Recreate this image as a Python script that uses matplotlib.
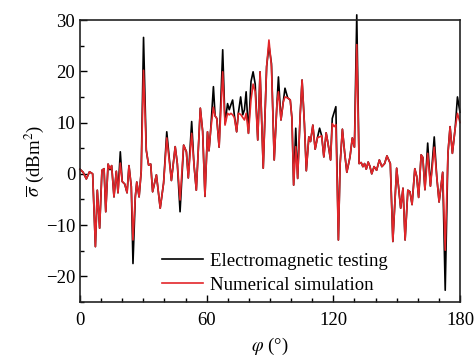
import matplotlib
matplotlib.use("Agg")
import matplotlib.pyplot as plt
from matplotlib.ticker import MultipleLocator

plt.rcParams['font.family'] = ['Liberation Serif', 'DejaVu Serif']
plt.rcParams['mathtext.fontset'] = 'stix'

phi = [0, 1.5, 3, 4.5, 6, 7.3, 8.2, 9.3, 10.4, 11.4, 12.2, 13.3, 14.2, 15.0, 16.1, 17.2, 18.0,
       19.1, 20.0, 21.2, 22.3, 23.2, 24.3, 25.1, 26.2, 26.9, 28.0, 29.0, 30.1, 31.4, 32.5, 33.5,
       34.4, 36.2, 38.0, 39.6, 41.1, 43.3, 45.1, 46.1, 47.4, 49.1, 50.4, 51.3, 52.9, 54.0, 55.1,
       57.0, 58.1, 59.2, 60.4, 61.1, 61.9, 63.2, 64.0, 64.8, 65.9, 67.6, 68.7, 69.9, 70.7, 71.5,
       72.3, 73.1, 74.2, 75.0, 76.1, 77.1, 77.9, 78.7, 79.8, 81.0, 82.0, 83.0, 84.2, 85.3, 86.8,
       88.4, 89.5, 90.7, 92.0, 93.3, 94.0, 95.2, 96.3, 97.1, 98.4, 99.6, 100.4, 101.2, 102.2,
       103.1, 104.3, 105.2, 106.3, 107.2, 108.4, 109.2, 110.3, 111.4, 112.5, 113.5, 114.5, 115.5,
       116.6, 117.5, 118.7, 119.5, 120.4, 121.2, 122.4, 123.2, 124.3, 125.4, 126.4, 127.9, 129.0,
       130.0, 131.1, 132.2, 133.2, 134.0, 134.8, 135.6, 136.5, 137.3, 138.2, 139.3, 140.5, 141.8,
       143.0, 144.3, 145.4, 147.0, 148.2, 150.0, 151.9, 153.0, 154.0, 155.3, 156.3, 157.3, 158.6,
       159.5, 160.4, 161.6, 162.4, 163.4, 164.7, 166.0, 167.8, 169.0, 170.1, 171.8, 173.0, 174.3,
       175.3, 176.4, 177.7, 178.8, 180.0]

simulation = [0.9, 0.3, -1.0, 0.4, 0.0, -14.2, -3.2, -10.6, 0.7, 1.0, -7.4, 1.9, 1.0, 1.6, -4.5, 0.5, -3.7,
              2.1, -1.5, -2.0, -3.7, 1.6, -2.5, -12.9, -4.5, -1.6, -4.5, 0.5, 20.2, 4.6, 1.7, 1.9,
              -3.5, -0.2, -6.7, -1.8, 7.0, -1.3, 5.3, 2.0, -5.1, 5.6, 4.3, -0.8, 7.9, 1.8, -3.2,
              12.8, 8.3, -4.4, 8.2, 4.5, 8.5, 13.0, 11.3, 10.8, 5.2, 19.9, 9.5, 11.8, 11.5, 11.8,
              11.5, 11.0, 8.2, 11.8, 11.6, 11.0, 10.5, 11.8, 7.9, 14.4, 17.5, 16.0, 6.6, 19.9, 1.1,
              20.9, 26.1, 20.9, 2.7, 13.7, 16.0, 10.5, 14.0, 15.0, 14.8, 14.4, 10.8, -2.2, 5.3,
              -0.9, 11.5, 18.3, 9.8, 0.6, 7.2, 6.3, 9.5, 4.8, 7.1, 7.2, 7.4, 3.3,
              8.0, 5.9, 2.7, 9.8, 9.2, 9.6, -12.9, 1.8, 8.7, 4.0, 0.3, 3.3, 7.0,
              5.2, 25.2, 2.0, 2.2, 1.4, 2.0, 0.9, 2.3, 1.5, 0.0, 1.4, 0.7, 2.7,
              1.4, 2.0, 3.5, 2.0, -13.2, 1.1, -6.7, -2.8, -12.9, -3.2, -3.5, -6.0, 1.0,
              -0.5, -4.6, 3.7, 3.2, -3.1, 4.0, -2.4, 5.2, -0.6, -5.5, 0.3, -14.9, 4.0,
              9.2, 4.0, 8.8, 11.8, 10.0]

testing = [0.9, 0.3, -1.0, 0.4, 0.0, -14.2, -3.2, -10.6, 0.7, 1.0, -7.4, 1.9, 0.8, 1.6, -4.5, 0.5, -3.7,
           4.3, -1.5, -2.0, -3.7, 1.6, -2.5, -17.5, -4.5, -1.6, -4.5, 0.5, 26.6, 4.6, 1.7, 1.9,
           -3.5, -0.2, -6.7, -1.8, 8.2, -1.3, 5.3, 2.0, -7.4, 5.6, 4.3, -0.8, 10.2, 1.8, -3.2,
           12.8, 8.3, -4.4, 8.2, 4.5, 8.5, 17.0, 11.3, 10.8, 5.2, 24.2, 9.8, 13.7, 12.5, 13.5,
           14.4, 11.5, 8.2, 11.8, 15.0, 11.5, 12.5, 16.0, 7.9, 18.0, 19.9, 17.5, 6.6, 19.9, 1.1,
           20.9, 25.0, 21.5, 2.7, 13.7, 18.9, 10.5, 14.0, 16.7, 14.8, 14.4, 10.8, -2.2, 8.9,
           -0.9, 11.5, 18.3, 9.8, 0.6, 7.2, 6.3, 9.5, 4.8, 7.1, 8.9, 7.4, 3.3,
           8.0, 5.9, 2.7, 10.8, 12.0, 13.1, -12.9, 1.8, 8.7, 4.0, 0.3, 3.3, 7.0,
           5.2, 31.0, 2.0, 2.2, 1.4, 2.0, 0.9, 2.3, 1.5, 0.0, 1.4, 0.7, 2.7,
           1.4, 2.0, 3.5, 2.0, -13.2, 1.1, -6.7, -2.8, -12.9, -3.2, -3.5, -6.0, 1.0,
           -0.5, -4.6, 3.7, 3.2, -3.1, 6.0, -2.4, 7.2, -0.6, -5.5, 0.3, -22.7, 4.0,
           9.2, 4.0, 8.8, 15.0, 12.0]

x_ticks = [0, 60, 120, 180]
y_ticks = [-20, -10, 0, 10, 20, 30]

fig = plt.figure(figsize=(4.75, 3.6), dpi=100)
ax = fig.add_axes([0.1684, 0.1611, 0.8, 0.7833])

ax.plot(phi, testing, color='black', lw=1.2, label='Electromagnetic testing', clip_on=False)
ax.plot(phi, simulation, color='#e3262a', lw=1.2, label='Numerical simulation', clip_on=False)

ax.set_xlim(0, 180)
ax.set_ylim(-25, 30)
ax.set_xticks(x_ticks)
ax.set_yticks(y_ticks)
ax.xaxis.set_minor_locator(MultipleLocator(10))
ax.yaxis.set_minor_locator(MultipleLocator(5))
ax.tick_params(which='both', direction='in', labelsize=13.5, top=False, right=False, width=1.0)
ax.tick_params(which='major', length=5)
ax.tick_params(which='minor', length=3)
ax.tick_params(axis='x', pad=7)
for s in ax.spines.values():
    s.set_linewidth(1.2)
    s.set_color('#222222')

ax.set_xlabel(r'$\varphi$ (°)', fontsize=13.5, labelpad=5)
ax.set_ylabel(r'$\overline{\sigma}$ (dBm$^2$)', fontsize=13.5, labelpad=0)

leg = ax.legend(loc='lower left', bbox_to_anchor=(0.215, 0.03), frameon=False, fontsize=13.5,
                handlelength=2.2, handletextpad=0.35, labelspacing=0.35, borderpad=0, borderaxespad=0)

fig.savefig('out.png', dpi=100)
